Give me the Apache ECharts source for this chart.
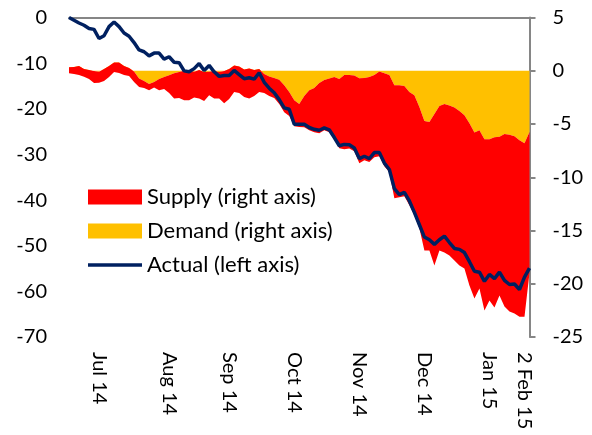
<!DOCTYPE html>
<html>
<head>
<meta charset="utf-8">
<script src="https://cdn.jsdelivr.net/npm/echarts@6/dist/echarts.min.js"></script>
<style>
  html, body { margin: 0; padding: 0; background: #fff; }
  #chart { width: 592px; height: 435px; }
</style>
</head>
<body>
<div id="chart"></div>
<script>
// right axis, % (demand sits next to zero, supply stacked under it)
const demand = [0.32, 0.35, 0.44, 0.16, 0.07, -0.03, -0.09, 0.16, 0.44, 0.77,
  0.77, 0.44, 0.25, -0.08, -0.73, -0.97, -1.25, -1.06, -0.78, -0.59,
  -0.43, -0.24, -0.12, 0, -0.03, -0.09, 0.07, -0.12, -0.09, -0.03,
  -0.12, -0.03, 0.16, 0.49, 0.40, 0.11, 0.21, 0.07, 0.16, -0.31,
  -0.53, -0.69, -0.85, -1.35, -2.00, -2.76, -3.13, -2.38, -1.82, -1.63,
  -1.16, -0.87, -0.73, -0.59, -0.78, -0.40, -0.40, -0.45, -0.71, -0.69,
  -0.59, -0.40, -0.08, -0.24, -0.40, -1.35, -1.35, -1.44, -2.00, -2.30,
  -3.40, -4.73, -4.82, -4.07, -3.32, -3.13, -3.27, -3.46, -3.79, -4.17,
  -4.92, -5.80, -5.58, -6.43, -6.43, -6.24, -6.19, -5.95, -6.00, -6.14,
  -6.52, -6.80, -5.74];
const supply = [-0.56, -0.66, -0.84, -0.72, -0.85, -1.13, -1.04, -1.13, -1.03, -0.89,
  -0.99, -0.84, -0.75, -0.98, -0.80, -0.66, -0.57, -0.52, -1.04, -1.13,
  -1.67, -2.36, -2.45, -2.76, -2.73, -2.41, -2.67, -2.73, -2.20, -2.57,
  -2.48, -3.01, -2.82, -2.49, -2.50, -2.58, -2.81, -2.45, -2.16, -1.79,
  -1.85, -1.88, -2.28, -2.54, -2.26, -2.44, -2.14, -2.92, -3.76, -4.14,
  -4.70, -4.71, -5.04, -5.84, -6.49, -6.97, -6.90, -7.10, -7.97, -7.71,
  -7.97, -7.72, -7.94, -8.73, -9.13, -10.63, -10.53, -10.35, -10.63, -11.28,
  -11.40, -12.14, -12.05, -14.21, -13.55, -13.93, -14.07, -14.35, -14.49, -14.39,
  -15.24, -15.58, -14.86, -16.08, -15.14, -15.99, -14.91, -16.18, -16.60, -16.66,
  -16.58, -16.30, -13.26];
// left axis
const actual = [0, -0.6, -1.2, -1.7, -2.4, -2.6, -4.6, -4.0, -2.0, -1.0,
  -2.0, -3.4, -4.1, -5.5, -7.1, -7.5, -8.4, -7.8, -7.8, -9.1,
  -8.6, -9.8, -9.9, -11.7, -11.9, -11.2, -10.1, -11.6, -10.5, -11.9,
  -12.9, -12.7, -12.7, -11.6, -12.5, -13.4, -13.2, -13.5, -12.1, -14.2,
  -15.5, -16.5, -18.0, -19.8, -20.1, -23.4, -23.4, -23.4, -24.1, -24.5,
  -24.7, -24.2, -24.6, -26.3, -28.1, -27.8, -27.9, -28.6, -30.9, -30.4,
  -30.9, -29.6, -29.6, -31.9, -33.3, -37.5, -38.8, -38.3, -40.2, -42.7,
  -45.4, -48.1, -48.7, -49.7, -48.7, -47.9, -49.3, -50.6, -50.8, -51.5,
  -53.5, -55.6, -55.8, -57.8, -56.3, -57.2, -55.8, -57.6, -58.5, -58.4,
  -59.6, -56.9, -54.9];

const days = Array.from(actual.keys());
const monthLabels = { 6: 'Jul 14', 20: 'Aug 14', 32: 'Sep 14', 45: 'Oct 14', 58: 'Nov 14', 71: 'Dec 14', 84: 'Jan 15', 91: '2 Feb 15' };

const font = 'Lato, "Noto Sans", sans-serif';
const chart = echarts.init(document.getElementById('chart'));

chart.setOption({
  animation: false,
  textStyle: { fontFamily: font },
  grid: { left: 69, right: 62.5, top: 17.5, bottom: 98 },
  legend: {
    left: 88,
    top: 185,
    padding: 0,
    orient: 'vertical',
    itemWidth: 54,
    itemHeight: 15,
    itemGap: 10,
    textStyle: { fontSize: 22, color: '#000', fontFamily: font, lineHeight: 24 },
    data: [
      { name: 'Supply (right axis)', icon: 'rect' },
      { name: 'Demand (right axis)', icon: 'rect' },
      { name: 'Actual (left axis)', icon: 'path://M0,0 L54,0 L54,3.5 L0,3.5 Z' }
    ]
  },
  xAxis: [
    {
      type: 'category',
      data: days,
      boundaryGap: false,
      position: 'bottom',
      axisLine: { show: false, onZero: false },
      axisTick: { show: false },
      axisLabel: {
        interval: (index) => index in monthLabels,
        formatter: (value, index) => monthLabels[index] || '',
        rotate: -90,
        margin: 15,
        fontSize: 20,
        color: '#000',
        fontFamily: font
      }
    },
    {
      type: 'category',
      data: days,
      boundaryGap: false,
      position: 'top',
      axisLine: { show: true, onZero: false, lineStyle: { color: '#868686', width: 2 } },
      axisTick: { show: false },
      axisLabel: { show: false }
    }
  ],
  yAxis: [
    {
      type: 'value',
      min: -70,
      max: 0,
      interval: 10,
      position: 'left',
      axisLine: { show: false },
      axisTick: { show: false },
      splitLine: { show: false },
      axisLabel: { margin: 22, fontSize: 20, color: '#000', fontFamily: font }
    },
    {
      type: 'value',
      min: -25,
      max: 5,
      interval: 5,
      position: 'right',
      axisLine: { show: true, lineStyle: { color: '#868686', width: 2 } },
      axisTick: { show: true, length: 6, lineStyle: { color: '#868686', width: 2 } },
      splitLine: { show: false },
      axisLabel: { margin: 23, align: 'left', fontSize: 20, color: '#000', fontFamily: font }
    }
  ],
  series: [
    {
      name: 'Demand (right axis)',
      type: 'line',
      yAxisIndex: 1,
      stack: 'contrib',
      stackStrategy: 'all',
      data: demand,
      symbol: 'none',
      color: '#FFC000',
      lineStyle: { width: 0 },
      areaStyle: { color: '#FFC000', opacity: 1 }
    },
    {
      name: 'Supply (right axis)',
      type: 'line',
      yAxisIndex: 1,
      stack: 'contrib',
      stackStrategy: 'all',
      data: supply,
      symbol: 'none',
      color: '#FF0000',
      lineStyle: { width: 0 },
      areaStyle: { color: '#FF0000', opacity: 1 }
    },
    {
      name: 'Actual (left axis)',
      type: 'line',
      yAxisIndex: 0,
      data: actual,
      symbol: 'none',
      color: '#002060',
      lineStyle: { color: '#002060', width: 3.5 },
      z: 5
    }
  ]
});
</script>
</body>
</html>
